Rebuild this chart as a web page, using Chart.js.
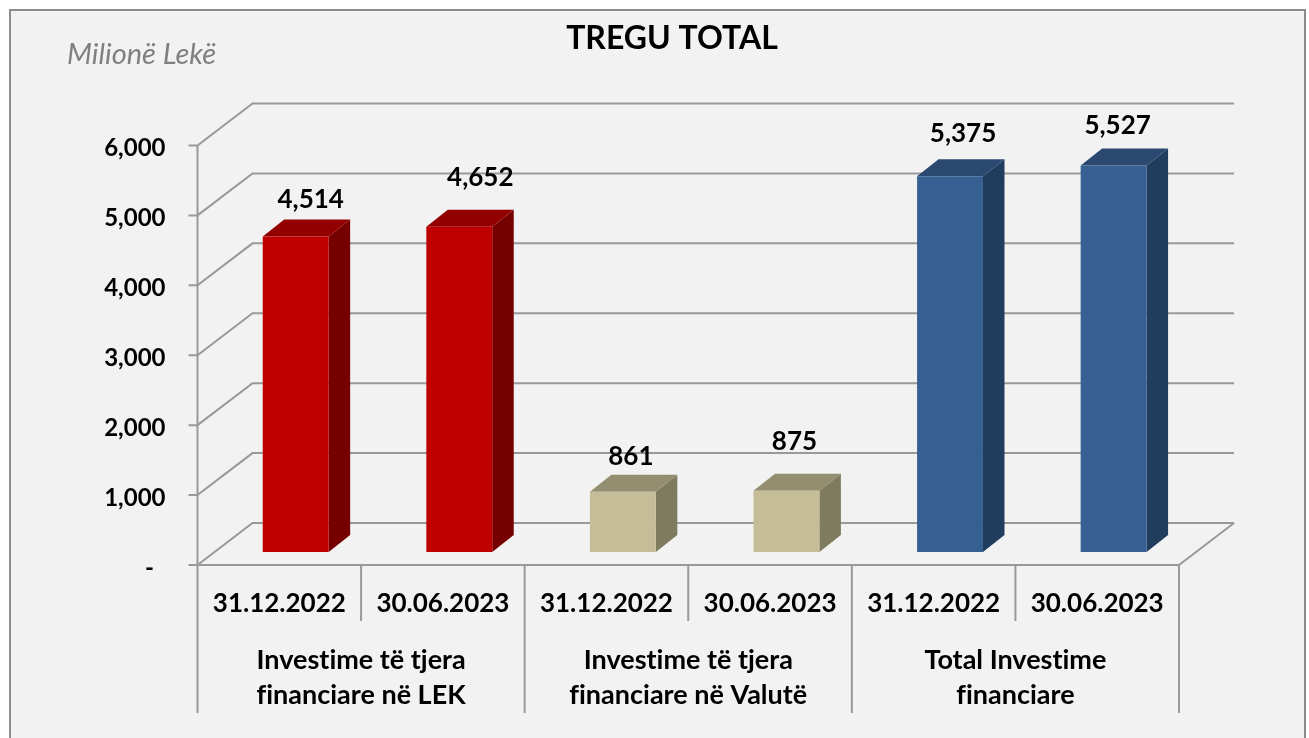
<!DOCTYPE html>
<html>
<head>
<meta charset="utf-8">
<style>html,body{margin:0;padding:0;background:#fff}canvas{display:block}</style>
<script src="https://cdn.jsdelivr.net/npm/chart.js@4"></script>
</head>
<body>
<canvas id="c" width="1309" height="738"></canvas>
<script>
const categories = ['31.12.2022','30.06.2023','31.12.2022','30.06.2023','31.12.2022','30.06.2023'];
const groupLabels = [['Investime të tjera','financiare në LEK'],['Investime të tjera','financiare në Valutë'],['Total Investime','financiare']];
const values = [4514,4652,861,875,5375,5527];
const titleText = 'TREGU TOTAL';
const unitText = 'Milionë Lekë';

const frontColors = ['#c00000','#c00000','#c4bd97','#c4bd97','#376092','#376092'];
const topColors   = ['#930000','#930000','#948e70','#948e70','#2a4870','#2a4870'];
const sideColors  = ['#760000','#760000','#7f7b5f','#7f7b5f','#203d5e','#203d5e'];
const labelNudge  = [[15,-37],[21,-49],[8,-35],[8,-49],[13,-43],[4,-40]];

const FONT = 'Lato, sans-serif';
const WALL = {dx:55, dy:-42};      // depth of the floor
const BAR_SHIFT = {dx:16.4, dy:-13}; // bars stand inside the floor
const BAR_DEPTH = {dx:21.5, dy:-17};
const LINE = '#999999';

const scene = {
  id:'scene',
  beforeDraw(chart){
    const c = chart.ctx;
    c.textRendering = 'optimizeSpeed';
    c.save();
    c.fillStyle='#ffffff'; c.fillRect(0,0,chart.width,chart.height);
    c.fillStyle='#f2f2f2'; c.fillRect(10,10,1295,728);
    c.strokeStyle='#8c8c8c'; c.lineWidth=2;
    c.beginPath(); c.moveTo(10,738); c.lineTo(10,10); c.lineTo(1305,10); c.lineTo(1305,738); c.stroke();
    c.restore();
  },
  beforeDatasetsDraw(chart){
    const c = chart.ctx, y = chart.scales.y, x = chart.scales.x, x2 = chart.scales.x2;
    const L = chart.chartArea.left, R = chart.chartArea.right;
    const top = y.getPixelForValue(y.max), bot = y.getPixelForValue(0);
    c.save();
    c.strokeStyle = LINE; c.lineWidth = 2;
    y.ticks.forEach(t=>{
      const py = y.getPixelForValue(t.value);
      c.beginPath();
      c.moveTo(L-9,py); c.lineTo(L,py);
      c.lineTo(L+WALL.dx,py+WALL.dy); c.lineTo(R+WALL.dx,py+WALL.dy);
      c.stroke();
    });
    c.beginPath(); c.moveTo(L,top); c.lineTo(L,bot); c.lineTo(R,bot); c.lineTo(R+WALL.dx,bot+WALL.dy); c.stroke();
    // category dividers
    const step = (R-L)/categories.length;
    for(let i=0;i<=categories.length;i++){
      const px = L+i*step;
      c.beginPath(); c.moveTo(px,bot); c.lineTo(px,x.bottom); c.stroke();
    }
    for(let i=0;i<=groupLabels.length;i++){
      const px = L+i*(R-L)/groupLabels.length;
      c.beginPath(); c.moveTo(px,x2.top); c.lineTo(px,x2.bottom); c.stroke();
    }
    c.restore();
  },
  beforeDatasetDraw(chart,args){
    const c = chart.ctx, meta = args.meta;
    c.save();
    c.translate(BAR_SHIFT.dx,BAR_SHIFT.dy);
    meta.data.forEach((b,i)=>{
      const p = b.getProps(['x','y','base','width'],true);
      const l=p.x-p.width/2, r=p.x+p.width/2, t=p.y, u=p.base;
      c.fillStyle=sideColors[i];
      c.beginPath(); c.moveTo(r,t); c.lineTo(r+BAR_DEPTH.dx,t+BAR_DEPTH.dy); c.lineTo(r+BAR_DEPTH.dx,u+BAR_DEPTH.dy); c.lineTo(r,u); c.closePath(); c.fill();
      c.fillStyle=topColors[i];
      c.beginPath(); c.moveTo(l,t); c.lineTo(l+BAR_DEPTH.dx,t+BAR_DEPTH.dy); c.lineTo(r+BAR_DEPTH.dx,t+BAR_DEPTH.dy); c.lineTo(r,t); c.closePath(); c.fill();
    });
  },
  afterDatasetDraw(chart,args){
    const c = chart.ctx;
    c.restore();
    c.save();
    c.fillStyle='#000'; c.font='bold 26px '+FONT; c.textAlign='center'; c.textBaseline='middle';
    args.meta.data.forEach((b,i)=>{
      const p = b.getProps(['x','y'],true);
      c.fillText(values[i].toLocaleString('en-US'), p.x+BAR_SHIFT.dx+labelNudge[i][0], p.y+BAR_SHIFT.dy+labelNudge[i][1]);
    });
    c.restore();
  },
  afterDraw(chart){
    const c = chart.ctx;
    c.save();
    c.fillStyle='#808080'; c.font='italic 29px '+FONT; c.textAlign='left'; c.textBaseline='middle';
    c.fillText(unitText,67,55);
    c.restore();
  }
};

new Chart(document.getElementById('c'),{
  type:'bar',
  data:{labels:categories,datasets:[{label:titleText,data:values,backgroundColor:frontColors,borderWidth:0,categoryPercentage:1,barPercentage:0.403,clip:false,yAxisID:'y',xAxisID:'x'}]},
  plugins:[scene],
  options:{
    responsive:false,animation:false,
    layout:{autoPadding:false,padding:{left:35,right:0,top:0,bottom:25}},
    plugins:{
      legend:{display:false},tooltip:{enabled:false},
      title:{display:true,text:titleText,color:'#000',font:{family:FONT,size:32,weight:'bold',lineHeight:1.2},padding:{top:19,bottom:88.1}}
    },
    scales:{
      y:{min:0,max:6000,
        afterFit(s){s.width=162.5},
        grid:{display:false,drawTicks:false},border:{display:false},
        ticks:{stepSize:1000,autoSkip:false,padding:32,labelOffset:3,color:'#000',font:{family:FONT,size:24,weight:'bold'},
          callback:v=>v===0?'-  ':v.toLocaleString('en-US')}
      },
      rightMargin:{axis:'y',position:'right',
        afterFit(s){s.width=130},
        grid:{display:false,drawTicks:false},border:{display:false},
        ticks:{display:false}
      },
      x:{weight:0,
        afterFit(s){s.height=56},
        grid:{display:false,drawTicks:false},border:{display:false},
        ticks:{padding:23.4,maxRotation:0,autoSkip:false,color:'#000',font:{family:FONT,size:26,weight:'bold'}}
      },
      x2:{type:'category',position:'bottom',weight:1,labels:groupLabels,offset:true,
        afterFit(s){s.height=92},
        grid:{display:false,drawTicks:false},border:{display:false},
        ticks:{padding:21.5,maxRotation:0,autoSkip:false,color:'#000',font:{family:FONT,size:27,weight:'bold',lineHeight:1.3}}
      }
    }
  }
});
</script>
</body>
</html>
